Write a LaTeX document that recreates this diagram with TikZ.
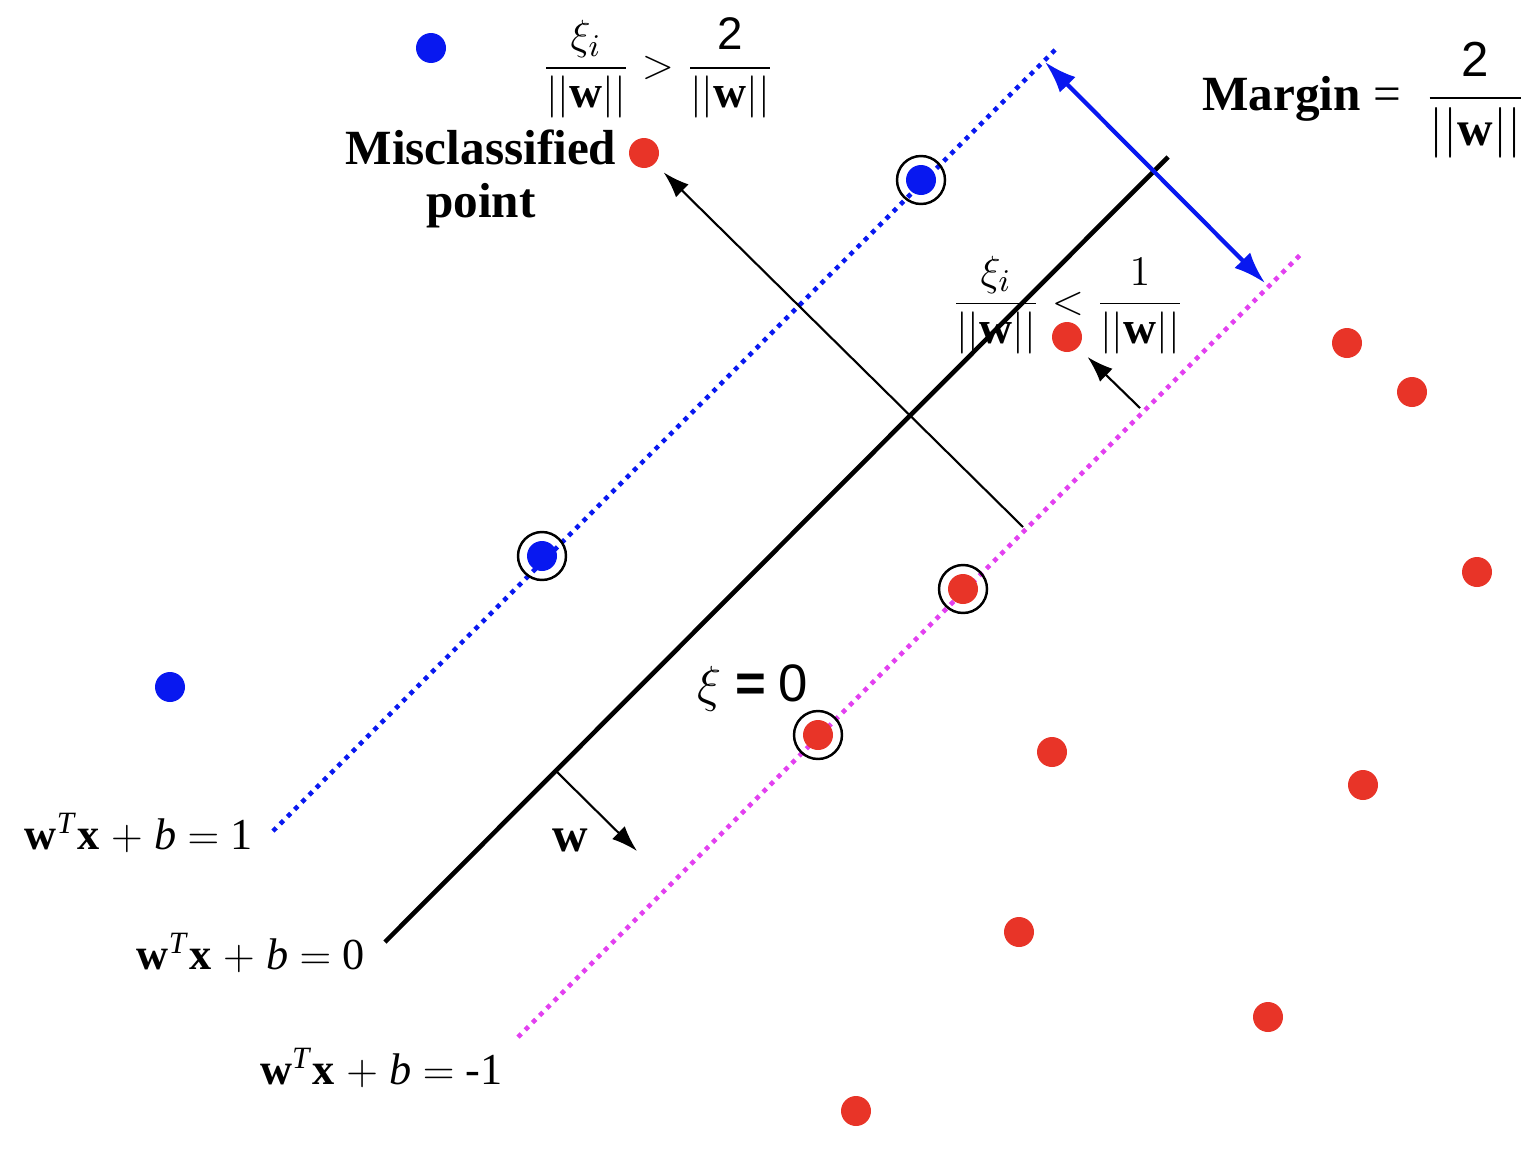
\documentclass[tikz,border=0pt]{standalone}
\usepackage{fontspec}
\setmainfont{Liberation Serif}
\newfontfamily\helv{Liberation Sans}
\usetikzlibrary{arrows.meta}
\definecolor{ptblue}{RGB}{8,24,240}
\definecolor{ptred}{RGB}{232,52,40}
\definecolor{minuspink}{RGB}{226,64,240}
\begin{document}
\begin{tikzpicture}[
  >={Latex[length=3.2mm,width=2.2mm]},
  every node/.style={font=\fontsize{14}{15}\selectfont,align=center},
  bluept/.style={circle,fill=ptblue,minimum size=3mm,inner sep=0pt},
  redpt/.style={circle,fill=ptred,minimum size=3mm,inner sep=0pt},
  supvec/.style={circle,draw,line width=0.7pt,minimum size=4.8mm,inner sep=0pt},
  hyper/.style={line width=1.3pt},
  dotline/.style={line width=1.3pt,dash pattern=on 1.3pt off 1.6pt},
  pointer/.style={->,line width=0.6pt,>={Latex[length=2.6mm,width=1.8mm]}},
  eqn/.style={font=\fontsize{12.6}{15}\selectfont,anchor=east},
  frac/.style={font=\fontsize{13}{15}\selectfont}]
  \useasboundingbox (0,0) rectangle (15.33,-11.69);

  % hyperplanes
  \coordinate (plusA) at (2.73,-8.31);
  \coordinate (plusB) at (10.55,-0.50);
  \coordinate (zeroA) at (3.85,-9.42);
  \coordinate (zeroB) at (11.68,-1.57);
  \coordinate (minusA) at (5.18,-10.37);
  \coordinate (minusB) at (13.00,-2.55);
  \draw[dotline,ptblue] (plusA) -- (plusB);
  \draw[hyper] (zeroA) -- (zeroB);
  \draw[dotline,minuspink] (minusA) -- (minusB);

  % points
  \node[bluept] (b1) at (4.31,-0.48) {};
  \node[bluept] (b2) at (9.21,-1.80) {};
  \node[bluept] (b3) at (5.42,-5.56) {};
  \node[bluept] (b4) at (1.70,-6.87) {};
  \node[redpt] (r1) at (6.44,-1.53) {};
  \node[redpt] (r2) at (10.67,-3.37) {};
  \node[redpt] (r3) at (13.47,-3.43) {};
  \node[redpt] (r4) at (14.12,-3.92) {};
  \node[redpt] (r5) at (14.77,-5.72) {};
  \node[redpt] (r6) at (9.63,-5.89) {};
  \node[redpt] (r7) at (8.18,-7.35) {};
  \node[redpt] (r8) at (10.52,-7.52) {};
  \node[redpt] (r9) at (13.63,-7.85) {};
  \node[redpt] (r10) at (10.19,-9.32) {};
  \node[redpt] (r11) at (12.68,-10.17) {};
  \node[redpt] (r12) at (8.56,-11.11) {};
  \node[supvec] (sv1) at (b2) {};
  \node[supvec] (sv2) at (b3) {};
  \node[supvec] (sv3) at (r6) {};
  \node[supvec] (sv4) at (r7) {};

  % margin and slack arrows
  \coordinate (marginA) at (10.45,-0.62);
  \coordinate (marginB) at (12.65,-2.83);
  \draw[<->,ptblue,line width=1.2pt] (marginA) -- (marginB);
  \coordinate (slackA) at (10.23,-5.27);
  \draw[pointer,shorten >=1.2mm] (slackA) -- (r1);
  \coordinate (slackB) at (11.40,-4.08);
  \draw[pointer,shorten >=1.3mm] (slackB) -- (r2);
  \coordinate (wbase) at (5.55,-7.70);
  \coordinate (wtip) at (6.37,-8.51);
  \draw[pointer] (wbase) -- (wtip);

  % labels
  \node (wlabel) at (5.70,-8.40) {\textbf{w}};
  \node (misc) at (4.81,-1.79) {\textbf{Misclassified}\\\textbf{point}};
  \node[frac] (bigslack) at (6.58,-0.68)
    {$\displaystyle\frac{\xi_i}{||\mathbf{w}||} > \frac{\mbox{\helv 2}}{||\mathbf{w}||}$};
  \node[frac] (smallslack) at (10.68,-3.05)
    {$\displaystyle\frac{\xi_i}{||\mathbf{w}||} < \frac{1}{||\mathbf{w}||}$};
  \node (margin) at (13.64,-1.00)
    {\textbf{Margin} = \ $\displaystyle\frac{\mbox{\helv 2}}{||\mathbf{w}||}$};
  \node[font=\fontsize{15}{17}\selectfont] (xizero) at (7.53,-6.88)
    {$\xi$ {\helv\bfseries =} {\helv 0}};
  \node[eqn] (eqplus) at (2.65,-8.33)
    {\textbf{w}\textsuperscript{\textit{T}}\textbf{x} $+$ \textit{b} $=$ 1};
  \node[eqn] (eqzero) at (3.77,-9.53)
    {\textbf{w}\textsuperscript{\textit{T}}\textbf{x} $+$ \textit{b} $=$ 0};
  \node[eqn] (eqminus) at (5.15,-10.68)
    {\textbf{w}\textsuperscript{\textit{T}}\textbf{x} $+$ \textit{b} $=$ -1};
\end{tikzpicture}
\end{document}
